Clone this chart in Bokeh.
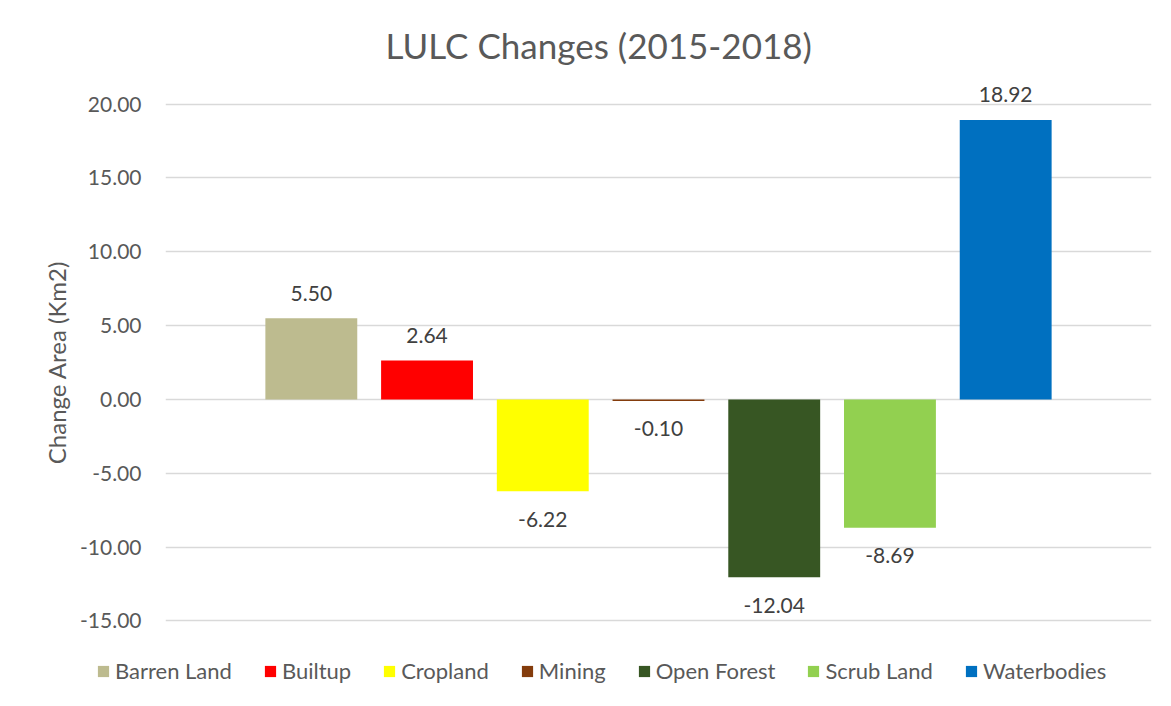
from bokeh.plotting import figure
from bokeh.layouts import column
from bokeh.models import (ColumnDataSource, Range1d, FixedTicker, NumeralTickFormatter,
                          Legend, LegendItem, Title)
from bokeh.core.properties import value
from bokeh.embed import file_html
from bokeh.resources import INLINE

categories = ["Barren Land", "Builtup", "Cropland", "Mining", "Open Forest", "Scrub Land", "Waterbodies"]
changes = [5.50, 2.64, -6.22, -0.10, -12.04, -8.69, 18.92]
colors = ["#BDBB8F", "#FF0000", "#FFFF00", "#843C0C", "#375623", "#92D050", "#0070C0"]
y_ticks = [-15, -10, -5, 0, 5, 10, 15, 20]
title_text = "LULC Changes (2015-2018)"
y_label = "Change Area (Km2)"

FONT = "Lato"
GRAY = "#595959"

idx = list(range(len(categories)))
labels = ["%.2f" % v for v in changes]
pos = [v >= 0 for v in changes]

p = figure(frame_width=986, frame_height=576, output_backend="svg", toolbar_location=None,
           x_range=Range1d(-1.26, 7.26), y_range=Range1d(-17, 22),
           min_border_left=165, min_border_right=12, min_border_top=74, min_border_bottom=0)
p.outline_line_color = None
p.background_fill_color = "white"
p.border_fill_color = "white"
p.frame_align = False

for i in idx:
    src = ColumnDataSource(dict(x=[i], top=[changes[i]], bottom=[0]))
    p.vbar(x="x", top="top", bottom="bottom", width=0.794, source=src,
           fill_color=colors[i], line_color=None)

# data labels
src_pos = ColumnDataSource(dict(x=[i for i in idx if pos[i]], y=[changes[i] for i in idx if pos[i]],
                                t=[labels[i] for i in idx if pos[i]]))
src_neg = ColumnDataSource(dict(x=[i for i in idx if not pos[i]], y=[changes[i] for i in idx if not pos[i]],
                                t=[labels[i] for i in idx if not pos[i]]))
p.text(x="x", y="y", text="t", source=src_pos, text_align="center", text_baseline="middle",
       y_offset=-25, text_font=value(FONT), text_font_size="21px", text_color="#404040")
p.text(x="x", y="y", text="t", source=src_neg, text_align="center", text_baseline="middle",
       y_offset=28, text_font=value(FONT), text_font_size="21px", text_color="#404040")

# axes
p.xaxis.visible = False
p.xgrid.visible = False
yax = p.yaxis[0]
yax.ticker = FixedTicker(ticks=y_ticks)
yax.formatter = NumeralTickFormatter(format="0.00")
yax.axis_line_color = None
yax.major_tick_line_color = None
yax.minor_tick_line_color = None
yax.major_label_standoff = 18
yax.major_label_text_font = FONT
yax.major_label_text_font_size = "21px"
yax.major_label_text_color = GRAY
yax.axis_label = y_label
yax.axis_label_text_font = FONT
yax.axis_label_text_font_size = "24px"
yax.axis_label_text_font_style = "normal"
yax.axis_label_text_color = GRAY
yax.axis_label_standoff = 6
p.ygrid.ticker = FixedTicker(ticks=y_ticks)
p.ygrid.grid_line_color = "#D9D9D9"
p.ygrid.grid_line_width = 1.5

# title
p.add_layout(Title(text=title_text, align="left", offset=220, standoff=18,
                   text_font=FONT, text_font_size="35px", text_font_style="normal",
                   text_color=GRAY), "above")

# legend strip below the chart
lf = figure(width=1163, height=50, output_backend="svg", toolbar_location=None,
            x_range=Range1d(0, 1), y_range=Range1d(0, 1),
            min_border_left=0, min_border_right=0, min_border_top=0, min_border_bottom=0)
lf.frame_align = False
lf.axis.visible = False
lf.grid.visible = False
lf.outline_line_color = None
lf.border_fill_color = "white"
items = []
for i in idx:
    r = lf.vbar(x=[0.5], top=[1], bottom=[0], width=0.1, fill_color=colors[i], line_color=None,
                visible=False)
    items.append(LegendItem(label=categories[i], renderers=[r]))
legend = Legend(items=items, orientation="horizontal", location=(96, 16),
                glyph_width=14, glyph_height=14, label_standoff=5, spacing=31,
                padding=0, margin=0, border_line_color=None, background_fill_alpha=0,
                label_text_font=FONT, label_text_font_size="22px", label_text_color=GRAY)
lf.add_layout(legend, "center")

open("out.html", "w").write(file_html(column(p, lf, spacing=0), INLINE))
